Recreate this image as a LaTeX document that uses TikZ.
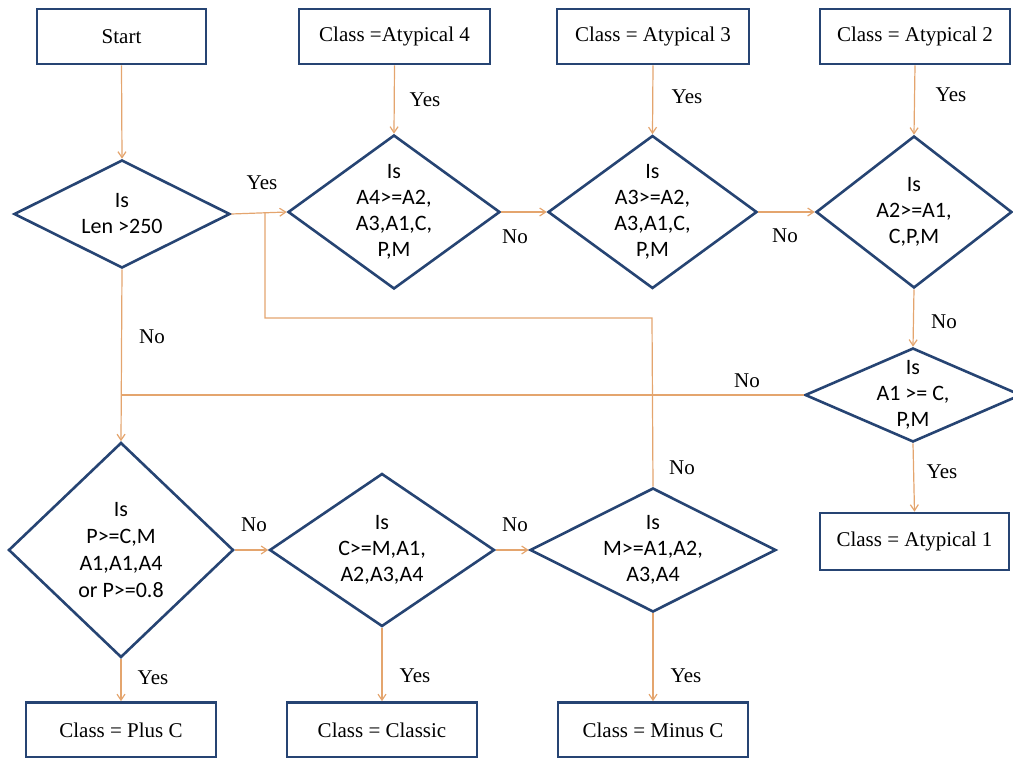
\documentclass[tikz,border=0pt]{standalone}
\usepackage{fontspec}
\setmainfont{Liberation Serif}
\newfontfamily\calfont{Carlito}
\usetikzlibrary{shapes.geometric,arrows.meta}
\definecolor{boxblue}{RGB}{38,68,115}
\definecolor{lineorange}{RGB}{228,165,110}
\tikzset{
  box/.style={draw=boxblue,line width=2.6pt,fill=white,minimum width=190pt,minimum height=55pt,inner sep=0pt,font=\fontsize{21}{25}\selectfont},
  dia/.style={draw=boxblue,line width=2.6pt,fill=white,shape=diamond,inner sep=0pt,aspect=1},
  dtext/.style={align=center,inner sep=0pt,font=\calfont\fontsize{22}{26}\selectfont},
  lbl/.style={inner sep=0pt,font=\fontsize{21}{25}\selectfont},
  conn/.style={draw=lineorange,line width=1.2pt},
  arr/.style={conn,-{Straight Barb[length=6pt,width=8pt]}}
}
\begin{document}
\begin{tikzpicture}[x=1pt,y=-1pt]
\useasboundingbox (0,0) rectangle (1013,758);
% boxes
\node[box,minimum width=169pt] (start) at (121.5,36.5) {Start};
\node[box,minimum width=191pt] (b4) at (394.5,36.5) {Class =Atypical 4};
\node[box,minimum width=192pt] (b3) at (653,36.5) {Class = Atypical 3};
\node[box,minimum width=190pt] (b2) at (915,36.5) {Class = Atypical 2};
\node[box,minimum width=189pt,minimum height=57pt] (b1) at (914.5,541.5) {Class = Atypical 1};
\node[box,minimum width=190pt] (plus) at (121,730) {Class = Plus C};
\node[box,minimum width=190pt] (classic) at (382,730) {Class = Classic};
\node[box,minimum width=190pt] (minus) at (653,730) {Class = Minus C};
% diamonds
\node[dia,minimum width=216pt,minimum height=108pt] (len) at (122,214) {};
\node[dtext] (lent) at (len) {Is\\Len >250};
\node[dia,minimum width=212pt,minimum height=154pt] (a4) at (394,212) {};
\node[dtext] (a4t) at (a4) {Is\\A4>=A2,\\A3,A1,C,\\P,M};
\node[dia,minimum width=209pt,minimum height=153pt] (a3) at (652.5,212) {};
\node[dtext] (a3t) at (a3) {Is\\A3>=A2,\\A3,A1,C,\\P,M};
\node[dia,minimum width=196pt,minimum height=152pt] (a2) at (914,212) {};
\node[dtext] (a2t) at (a2) {Is\\A2>=A1,\\C,P,M};
\node[dia,minimum width=216pt,minimum height=94pt] (a1) at (913,395) {};
\node[dtext] (a1t) at (a1) {Is\\A1 >= C,\\P,M};
\node[dia,minimum width=225pt,minimum height=215pt] (p) at (121,550) {};
\node[dtext,font=\calfont\fontsize{22}{27}\selectfont] (pt) at (p) {Is\\P>=C,M\\A1,A1,A4\\or P>=0.8};
\node[dia,minimum width=225pt,minimum height=153pt] (c) at (382,550) {};
\node[dtext] (ct) at (c) {Is\\C>=M,A1,\\A2,A3,A4};
\node[dia,minimum width=246pt,minimum height=124pt] (m) at (653,550) {};
\node[dtext] (mt) at (m) {Is\\M>=A1,A2,\\A3,A4};
% helper coordinates
\coordinate (br) at (265,212);
\coordinate (br3) at (652,318);
% connectors
\draw[arr] (start.south) -- (len.north);
\draw[arr] (b4.south) -- (a4.north);
\draw[arr] (b3.south) -- (a3.north);
\draw[arr] (b2.south) -- (a2.north);
\draw[arr] (len.east) -- (a4.west);
\draw[conn] (br) |- (br3) -- (m.north);
\draw[arr] (a4.east) -- (a3.west);
\draw[arr] (a3.east) -- (a2.west);
\draw[arr] (a2.south) -- (a1.north);
\draw[conn] (a1.west) -- (len.south |- a1.west);
\draw[arr] (len.south) -- (p.north);
\draw[arr] (a1.south) -- (b1.north);
\draw[arr] (p.east) -- (c.west);
\draw[arr] (c.east) -- (m.west);
\draw[arr] (p.south) -- (plus.north);
\draw[arr] (c.south) -- (classic.north);
\draw[arr] (m.south) -- (minus.north);
% labels
\node[lbl] (y1) at (262,183) {Yes};
\node[lbl] (y2) at (425,100) {Yes};
\node[lbl] (y3) at (687,97) {Yes};
\node[lbl] (y4) at (951,95) {Yes};
\node[lbl] (n1) at (515,237) {No};
\node[lbl] (n2) at (785,236) {No};
\node[lbl] (n3) at (944,322) {No};
\node[lbl] (n4) at (747,381) {No};
\node[lbl] (n5) at (152,337) {No};
\node[lbl] (n6) at (682,468) {No};
\node[lbl] (y5) at (942,472) {Yes};
\node[lbl] (n7) at (254,525) {No};
\node[lbl] (n8) at (515,525) {No};
\node[lbl] (y6) at (153,678) {Yes};
\node[lbl] (y7) at (415,676) {Yes};
\node[lbl] (y8) at (686,676) {Yes};
\end{tikzpicture}
\end{document}
